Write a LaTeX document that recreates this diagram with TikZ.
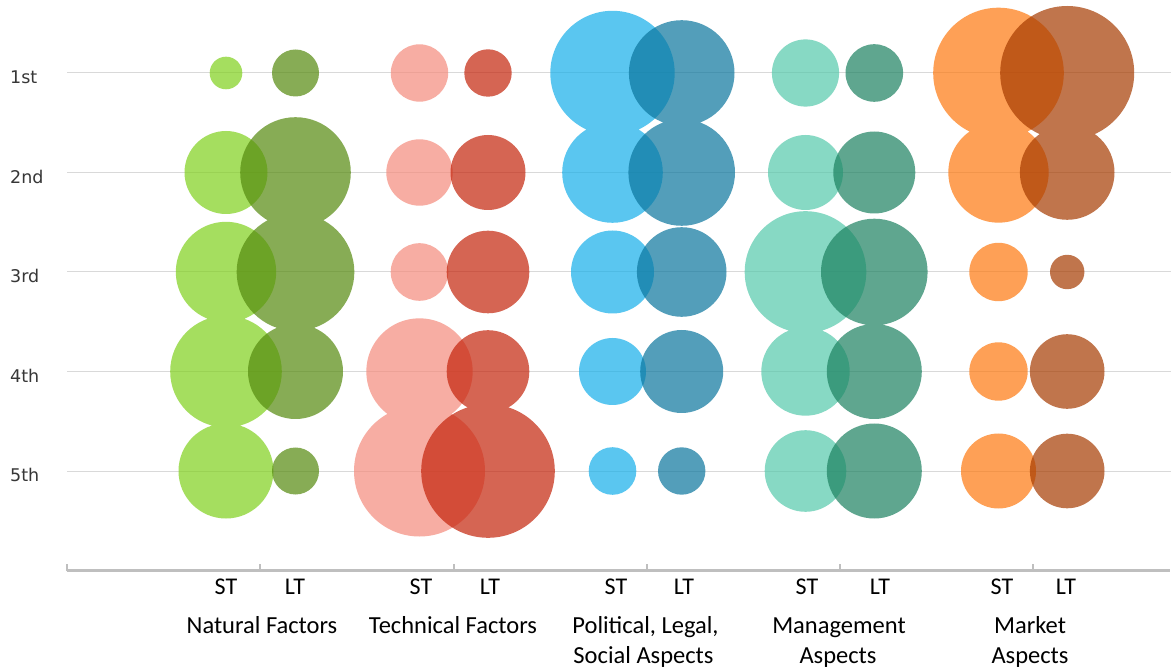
\documentclass[tikz,border=0pt]{standalone}
\usepackage{fontspec}
\setmainfont{Carlito}
\newfontfamily\rowfont{DejaVu Sans}
\definecolor{nst}{RGB}{128,208,28}
\definecolor{nlt}{RGB}{85,138,14}
\definecolor{tst}{RGB}{245,139,124}
\definecolor{tlt}{RGB}{196,36,11}
\definecolor{pst}{RGB}{21,175,234}
\definecolor{plt}{RGB}{11,118,158}
\definecolor{mst}{RGB}{85,201,171}
\definecolor{mlt}{RGB}{28,129,96}
\definecolor{kst}{RGB}{254,121,15}
\definecolor{klt}{RGB}{166,59,0}
\definecolor{gridgray}{RGB}{217,217,217}
\definecolor{axisgray}{RGB}{191,191,191}
\definecolor{rowgray}{RGB}{55,55,55}
\tikzset{
  bubble/.style={fill=#1, fill opacity=0.7, draw=none},
  gridline/.style={draw=gridgray, line width=1pt},
  axisline/.style={draw=axisgray, line width=3pt},
  tickline/.style={draw=axisgray, line width=2.5pt},
  rowlab/.style={anchor=base west, inner sep=0pt, text=rowgray, font=\rowfont\fontsize{17.5}{20}\selectfont},
  serlab/.style={anchor=base, inner sep=0pt, text=black, font=\fontsize{24}{28}\selectfont},
  catlab/.style={anchor=base, inner sep=0pt, text=black, font=\fontsize{24.5}{28}\selectfont}
}
\newcommand\bub[3]{(#1,#2) circle[radius=#3pt]}
\begin{document}
\begin{tikzpicture}[x=1pt,y=-1pt]
\useasboundingbox (0,0) rectangle (1171,668);
\fill[white] (0,0) rectangle (1171,668);
% gridlines
\foreach \yy in {73,172.5,272,371.5,471}
  \draw[gridline] (67,\yy) -- (1171,\yy);
% row labels
\node[rowlab] (r1) at (10,84) {1st};
\node[rowlab] (r2) at (10,183.5) {2nd};
\node[rowlab] (r3) at (10,283) {3rd};
\node[rowlab] (r4) at (10,382.5) {4th};
\node[rowlab] (r5) at (10,482) {5th};
% Natural Factors
\fill[bubble=nst] \bub{226}{73}{16.3} \bub{226}{172.5}{41.5} \bub{226}{272}{50.2} \bub{226}{371.5}{55.8} \bub{226}{471}{47.5};
\fill[bubble=nlt] \bub{295.5}{73}{23.5} \bub{295.5}{172.5}{55.3} \bub{295.5}{272}{58.8} \bub{295.5}{371.5}{47.5} \bub{295.5}{471}{23.5};
% Technical Factors
\fill[bubble=tst] \bub{419.5}{73}{28.7} \bub{419.5}{172.5}{33.2} \bub{419.5}{272}{28.8} \bub{419.5}{371.5}{53.2} \bub{419.5}{471}{65.5};
\fill[bubble=tlt] \bub{488}{73}{23.7} \bub{488}{172.5}{37.5} \bub{488}{272}{41.3} \bub{488}{371.5}{41.3} \bub{488}{471}{66.8};
% Political, Legal, Social Aspects
\fill[bubble=pst] \bub{612.5}{73}{62.2} \bub{612.5}{172.5}{50.3} \bub{612.5}{272}{41.5} \bub{612.5}{371.5}{33.5} \bub{612.5}{471}{23.8};
\fill[bubble=plt] \bub{681.7}{73}{52.8} \bub{681.7}{172.5}{53.3} \bub{681.7}{272}{44.8} \bub{681.7}{371.5}{41.5} \bub{681.7}{471}{23.7};
% Management Aspects
\fill[bubble=mst] \bub{805.5}{73}{33.6} \bub{805.5}{172.5}{37.5} \bub{805.5}{272}{60.8} \bub{805.5}{371.5}{44.2} \bub{805.5}{471}{40.8};
\fill[bubble=mlt] \bub{874.3}{73}{28.8} \bub{874.3}{172.5}{41} \bub{874.3}{272}{53.3} \bub{874.3}{371.5}{47.5} \bub{874.3}{471}{47.5};
% Market Aspects
\fill[bubble=kst] \bub{998.5}{73}{65.3} \bub{998.5}{172.5}{50.2} \bub{998.5}{272}{29.2} \bub{998.5}{371.5}{29.2} \bub{998.5}{471}{37.5};
\fill[bubble=klt] \bub{1067.2}{73}{67} \bub{1067.2}{172.5}{47.3} \bub{1067.2}{272}{17.2} \bub{1067.2}{371.5}{37.3} \bub{1067.2}{471}{37.3};
% axis
\draw[axisline] (67,570) -- (1170,570);
\foreach \xx in {67,260,454,647,840,1033}
  \draw[tickline] (\xx,571) -- (\xx,564);
% series labels
\node[serlab] (s1) at (226,594) {ST};
\node[serlab] (l1) at (295,594) {LT};
\node[serlab] (s2) at (421,594) {ST};
\node[serlab] (l2) at (490,594) {LT};
\node[serlab] (s3) at (616,594) {ST};
\node[serlab] (l3) at (684,594) {LT};
\node[serlab] (s4) at (807,594) {ST};
\node[serlab] (l4) at (880,594) {LT};
\node[serlab] (s5) at (1002,594) {ST};
\node[serlab] (l5) at (1066,594) {LT};
% category labels
\node[catlab] (c1) at (262,633) {Natural Factors};
\node[catlab] (c2) at (453,633) {Technical Factors};
\node[catlab] (c3a) at (645.5,633) {Political, Legal,};
\node[catlab] (c3b) at (643.5,663) {Social Aspects};
\node[catlab] (c4a) at (839,633) {Management};
\node[catlab] (c4b) at (838,663) {Aspects};
\node[catlab] (c5a) at (1030,633) {Market};
\node[catlab] (c5b) at (1030,663) {Aspects};
\end{tikzpicture}
\end{document}
